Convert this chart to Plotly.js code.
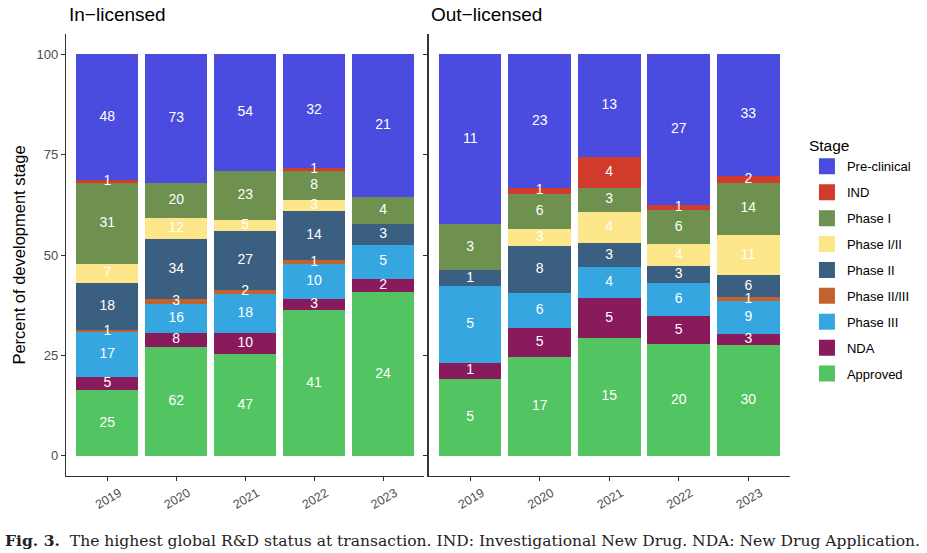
<!DOCTYPE html>
<html>
<head>
<meta charset="utf-8">
<script src="https://cdn.plot.ly/plotly-3.0.1.min.js"></script>
<style>html,body{margin:0;padding:0;background:#fff}#chart{width:927px;height:553px}</style>
</head>
<body>
<div id="chart"></div>
<script>
// ---- data (counts) ----
const years = ["2019", "2020", "2021", "2022", "2023"];
const stages = ["Pre-clinical", "IND", "Phase I", "Phase I/II", "Phase II", "Phase II/III", "Phase III", "NDA", "Approved"];
const stageColors = ["#4A4BDF", "#D03B2B", "#6E9150", "#FDE68A", "#3B5F80", "#C4622D", "#36A6E0", "#891A5B", "#52C562"];
const panels = ["In\u2212licensed", "Out\u2212licensed"];

// In-licensed counts per stage (2019..2023)
const inPreclinical = [48, 73, 54, 32, 21];
const inIND         = [1, 0, 0, 1, 0];
const inPhaseI      = [31, 20, 23, 8, 4];
const inPhaseI_II   = [7, 12, 5, 3, 0];
const inPhaseII     = [18, 34, 27, 14, 3];
const inPhaseII_III = [1, 3, 2, 1, 0];
const inPhaseIII    = [17, 16, 18, 10, 5];
const inNDA         = [5, 8, 10, 3, 2];
const inApproved    = [25, 62, 47, 41, 24];

// Out-licensed counts per stage (2019..2023)
const outPreclinical = [11, 23, 13, 27, 33];
const outIND         = [0, 1, 4, 1, 2];
const outPhaseI      = [3, 6, 3, 6, 14];
const outPhaseI_II   = [0, 3, 4, 4, 11];
const outPhaseII     = [1, 8, 3, 3, 6];
const outPhaseII_III = [0, 0, 0, 0, 1];
const outPhaseIII    = [5, 6, 4, 6, 9];
const outNDA         = [1, 5, 5, 5, 3];
const outApproved    = [5, 17, 15, 20, 30];

const yTicks = [0, 25, 50, 75, 100];
const captionBold = "Fig. 3.";
const captionText = "The highest global R&D status at transaction. IND: Investigational New Drug. NDA: New Drug Application.";

const inData = [inPreclinical, inIND, inPhaseI, inPhaseI_II, inPhaseII, inPhaseII_III, inPhaseIII, inNDA, inApproved];
const outData = [outPreclinical, outIND, outPhaseI, outPhaseI_II, outPhaseII, outPhaseII_III, outPhaseIII, outNDA, outApproved];

const traces = [];
function buildPanel(data, xa, ya) {
  const totals = years.map((_, j) => data.reduce((s, arr) => s + arr[j], 0));
  const cum = years.map(() => 0);
  const tx = [], ty = [], tt = [];
  // stack from bottom (Approved) to top (Pre-clinical)
  for (let i = stages.length - 1; i >= 0; i--) {
    const pct = data[i].map((v, j) => 100 * v / totals[j]);
    traces.push({
      type: "bar", x: years, y: pct, name: stages[i], xaxis: xa, yaxis: ya,
      marker: {color: stageColors[i], line: {width: 0}},
      showlegend: false, hoverinfo: "skip"
    });
    data[i].forEach((v, j) => {
      if (v > 0) { tx.push(years[j]); ty.push(cum[j] + pct[j] / 2); tt.push(String(v)); }
      cum[j] += pct[j];
    });
  }
  traces.push({
    type: "scatter", mode: "text", x: tx, y: ty, text: tt, xaxis: xa, yaxis: ya,
    textfont: {color: "#ffffff", size: 14, family: "Liberation Sans, Arial, sans-serif"},
    textposition: "middle center", showlegend: false, hoverinfo: "skip", cliponaxis: false
  });
}
buildPanel(inData, "x", "y");
buildPanel(outData, "x2", "y2");

// legend entries
stages.forEach((s, i) => {
  traces.push({
    type: "scatter", mode: "markers", x: [null], y: [null], name: s, legendgroup: s,
    marker: {symbol: "square", size: 16, color: stageColors[i]}, xaxis: "x", yaxis: "y", hoverinfo: "skip"
  });
});

const xCommon = {
  type: "category", range: [-0.6, 4.6], showline: true, linecolor: "#333333", linewidth: 1.1,
  ticks: "outside", ticklen: 4, tickcolor: "#333333", tickwidth: 1, showgrid: false, zeroline: false,
  tickangle: -30, tickfont: {size: 12.5, color: "#4D4D4D"}, ticklabelshift: 12, ticklabelstandoff: 0
};
const yCommon = {
  range: [-5, 105], tickvals: yTicks, showline: true, linecolor: "#333333", linewidth: 1.1,
  ticks: "outside", ticklen: 4, tickcolor: "#333333", tickwidth: 1, showgrid: false, zeroline: false,
  tickfont: {size: 13, color: "#4D4D4D"}
};

const layout = {
  width: 927, height: 553,
  margin: {l: 66, r: 136, t: 34, b: 77},
  paper_bgcolor: "#ffffff", plot_bgcolor: "#ffffff",
  font: {family: "Liberation Sans, Arial, sans-serif", color: "#000000"},
  barmode: "stack", bargap: 0.1,
  showlegend: true,
  xaxis: Object.assign({}, xCommon, {domain: [0, 0.495], anchor: "y"}),
  xaxis2: Object.assign({}, xCommon, {domain: [0.5007, 1], anchor: "y2"}),
  yaxis: Object.assign({}, yCommon, {domain: [0, 1], anchor: "x",
    title: {text: "Percent of development stage", font: {size: 16.5, color: "#000000"}, standoff: 6}}),
  yaxis2: Object.assign({}, yCommon, {domain: [0, 1], anchor: "x2", showticklabels: false}),
  legend: {
    x: 1.022, xanchor: "left", y: 0.78, yanchor: "top",
    title: {text: "Stage", font: {size: 15.5, color: "#000000"}},
    font: {size: 13, color: "#000000"}, traceorder: "grouped", tracegroupgap: 6,
    itemclick: false, itemdoubleclick: false
  },
  annotations: [
    {text: panels[0], xref: "paper", yref: "paper", x: 0.002, y: 1.043, xanchor: "left", yanchor: "middle",
     showarrow: false, font: {size: 19, color: "#000000"}},
    {text: panels[1], xref: "paper", yref: "paper", x: 0.502, y: 1.043, xanchor: "left", yanchor: "middle",
     showarrow: false, font: {size: 19, color: "#000000"}},
    {text: "<b>" + captionBold + "</b>  " + captionText, xref: "paper", yref: "paper", x: -0.087, y: -0.145,
     xanchor: "left", yanchor: "middle", showarrow: false,
     font: {size: 15.55, color: "#222222", family: "DejaVu Serif, Liberation Serif, serif"}}
  ]
};

Plotly.newPlot("chart", traces, layout, {displayModeBar: false, staticPlot: true});
</script>
</body>
</html>
